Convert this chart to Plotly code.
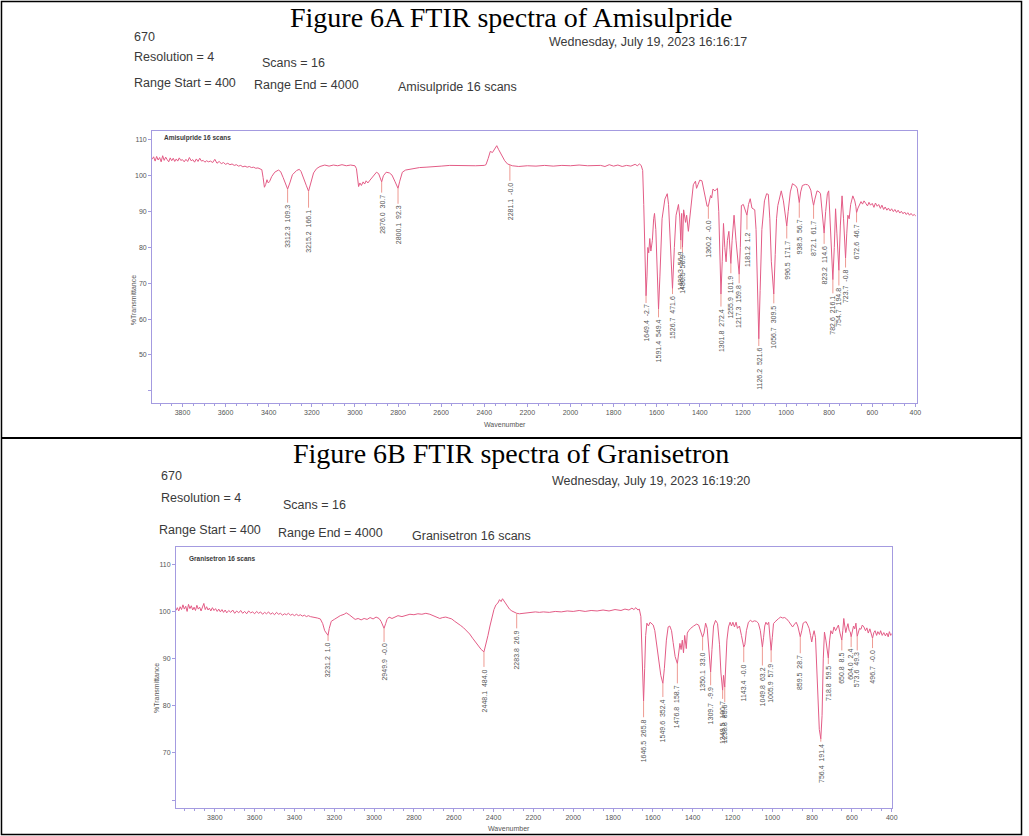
import plotly.graph_objects as go

W, H = 1029, 836

# ---------------- Amisulpride (panel A) ----------------
# Spectrum outline between the labelled bands: wavenumber (cm-1) and %T
amis_wn = [
    3941, 3934, 3927, 3920, 3913, 3906, 3899, 3892, 3885, 3878, 3871, 3864, 3857, 3850,
    3843, 3836, 3829, 3822, 3815, 3808, 3800, 3792, 3784, 3776, 3768, 3760, 3752, 3744,
    3736, 3728, 3720, 3712, 3704, 3696, 3688, 3680, 3670, 3660, 3650, 3640, 3630, 3620,
    3610, 3600, 3590, 3580, 3570, 3560, 3550, 3540, 3530, 3520, 3510, 3500, 3490, 3480,
    3470, 3460, 3450, 3440, 3432, 3426, 3420, 3414, 3408, 3402, 3396, 3386, 3372, 3355,
    3345, 3333, 3322, 3302, 3290, 3270, 3258, 3250, 3238, 3225, 3205, 3192, 3178, 3162,
    3140, 3120, 3100, 3080, 3060, 3040, 3020, 3000, 2993, 2987, 2983, 2977, 2970, 2962,
    2955, 2948, 2940, 2930, 2920, 2910, 2900, 2890, 2884, 2868, 2855, 2840, 2828, 2815,
    2807, 2792, 2780, 2765, 2740, 2720, 2700, 2670, 2640, 2600, 2560, 2520, 2480, 2440,
    2400, 2392, 2382, 2372, 2362, 2352, 2342, 2334, 2320, 2305, 2292, 2270, 2240, 2200,
    2160, 2120, 2080, 2040, 2000, 1960, 1920, 1880, 1860, 1840, 1820, 1800, 1780, 1760,
    1740, 1720, 1700, 1690, 1680, 1672, 1665, 1660, 1655, 1645, 1641, 1637, 1632, 1627,
    1620, 1614, 1610, 1604, 1598, 1585, 1575, 1562, 1551, 1545, 1538, 1518, 1510, 1499,
    1493, 1484, 1475, 1466, 1461, 1453, 1441, 1430, 1420, 1415, 1408, 1400, 1390, 1380,
    1372, 1366, 1355, 1350, 1345, 1339, 1330, 1318, 1312, 1306, 1296, 1290, 1284, 1278,
    1272, 1265, 1260, 1250, 1241, 1232, 1223, 1212, 1207, 1198, 1190, 1174, 1166, 1158,
    1151, 1145, 1139, 1133, 1120, 1112, 1100, 1090, 1082, 1075, 1068, 1050, 1044, 1038,
    1030, 1022, 1012, 1004, 990, 980, 970, 962, 955, 948, 932, 924, 910, 900, 894, 885,
    878, 866, 856, 846, 840, 834, 828, 816, 808, 802, 796, 790, 776, 770, 764, 759, 748,
    740, 733, 727, 718, 713, 707, 700, 690, 681, 676, 666, 660, 652, 645, 638, 630, 622,
    615, 608, 600, 592, 585, 577, 570, 562, 555, 547, 540, 532, 525, 517, 510, 502, 495,
    487, 480, 472, 465, 457, 450, 442, 435, 427, 420, 412, 405, 398,
]
amis_t = [
    104.6, 105.3, 104.1, 105.4, 104.4, 105.1, 103.9, 105.6, 104.3, 105.2, 104.5, 103.9, 105.0, 104.2,
    104.9, 104.0, 104.7, 104.1, 105.0, 104.3, 104.5, 103.9, 104.6, 104.0, 105.1, 104.2, 104.5, 103.8,
    104.7, 104.0, 104.9, 104.1, 104.3, 103.8, 104.2, 103.9, 104.1, 103.7, 104.6, 103.5, 104.0, 103.4,
    103.7, 103.2, 103.5, 103.1, 103.3, 102.9, 103.1, 102.7, 102.9, 102.5, 102.7, 102.4, 102.6, 102.3,
    102.4, 102.1, 102.2, 101.9, 101.7, 99.5, 96.8, 97.6, 98.9, 98.0, 98.4, 99.8, 101.0, 101.6,
    101.2, 99.5, 97.6, 98.0, 100.3, 101.5, 101.8, 101.2, 99.5, 97.2, 98.0, 100.8, 102.0, 102.6,
    103.0, 102.7, 103.0, 102.8, 103.1, 102.8, 103.0, 102.8, 102.0, 99.0, 97.0, 98.0, 97.3, 98.3,
    97.7, 98.6, 98.0, 98.8, 99.6, 100.5, 101.0, 100.6, 99.6, 100.0, 101.0, 100.8, 100.2, 98.5,
    97.2, 98.5, 101.0, 101.6, 101.9, 102.0, 102.3, 102.4, 102.6, 102.7, 102.9, 102.8, 102.9, 102.8,
    102.9, 103.1, 104.8, 106.8, 106.5, 107.6, 108.4, 107.4, 105.8, 104.2, 103.3, 102.8, 102.6, 102.8,
    102.7, 102.9, 102.7, 102.9, 102.8, 103.0, 102.8, 103.0, 102.9, 102.6, 103.1, 102.7, 103.0, 102.6,
    102.9, 102.7, 103.2, 102.8, 103.3, 102.9, 101.5, 92.0, 80.0, 72.0, 80.0, 78.5, 82.5, 79.0,
    82.0, 88.0, 89.5, 85.0, 72.0, 72.0, 88.0, 93.5, 95.0, 92.0, 82.0, 80.0, 89.0, 92.0,
    88.5, 89.5, 90.5, 87.0, 89.0, 84.5, 92.0, 97.5, 98.5, 96.5, 97.6, 98.8, 98.6, 96.0,
    93.0, 91.5, 93.5, 94.5, 93.8, 96.3, 95.8, 96.5, 90.0, 76.0, 76.0, 86.7, 80.0, 76.0,
    82.0, 84.5, 79.5, 82.0, 89.0, 82.0, 75.0, 80.0, 91.7, 92.0, 90.5, 92.0, 93.6, 91.0,
    90.7, 90.5, 85.0, 70.0, 68.0, 85.0, 93.0, 95.0, 94.8, 88.0, 76.0, 78.0, 88.0, 91.7,
    93.5, 95.8, 93.0, 89.0, 90.0, 95.5, 97.8, 97.6, 97.2, 96.5, 95.5, 97.3, 97.6, 97.5, 97.2, 96.0,
    93.5, 93.5, 95.8, 95.5, 95.0, 91.0, 86.5, 90.0, 95.0, 95.8, 88.0, 78.0, 80.0, 90.8, 84.0, 76.0, 86.0,
    94.4, 88.0, 80.0, 84.0, 89.0, 88.0, 92.0, 94.4, 93.0, 91.5, 91.0, 92.0, 92.8, 92.1, 93.0, 92.3, 91.6,
    92.6, 91.8, 92.3, 91.2, 92.4, 91.5, 92.0, 90.9, 91.8, 90.6, 91.3, 90.4, 91.0, 90.2, 90.8, 90.0, 90.6,
    89.8, 90.4, 89.6, 90.1, 89.4, 89.9, 89.2, 89.7, 89.0, 89.5, 88.9, 89.2, 88.8,
]
# Labelled bands: position, %T at the band, %T where the label begins, label
amis_peak_wn = [3312.3, 3215.2, 2876.0, 2800.1, 2281.1, 1649.4, 1591.4, 1526.7, 1488.3,
                1480.5, 1360.2, 1301.8, 1255.9, 1217.3, 1181.2, 1126.2, 1056.7, 996.5,
                938.5, 872.1, 823.2, 782.6, 754.7, 723.7, 672.6]
amis_peak_t = [96.3, 95.7, 98.3, 96.5, 103.0, 66.5, 62.8, 68.5, 82.0,
               80.0, 91.6, 67.0, 75.5, 72.5, 89.0, 54.5, 67.0, 86.0,
               92.5, 91.7, 84.0, 71.0, 73.6, 77.0, 89.7]
amis_label_t = [92.5, 91.1, 95.3, 92.2, 98.6, 64.5, 60.5, 67.0, 79.5,
                78.5, 88.0, 63.5, 72.8, 70.0, 85.0, 52.5, 64.4, 82.5,
                88.3, 88.0, 81.0, 67.2, 69.4, 74.4, 87.0]
amis_label_txt = ["3312.3  109.3", "3215.2  166.1", "2876.0  30.7", "2800.1  92.3",
                  "2281.1  -0.0", "1649.4  -2.7", "1591.4  549.4", "1526.7  471.6",
                  "1488.3  56.9", "1480.5  50.9", "1360.2  -0.0", "1301.8  272.4",
                  "1255.9  101.9", "1217.3  159.8", "1181.2  1.2", "1126.2  521.6",
                  "1056.7  309.5", "996.5  171.7", "938.5  56.7", "872.1  61.7",
                  "823.2  114.6", "782.6  216.1", "754.7  194.8", "723.7  -0.8",
                  "672.6  46.7"]

# ---------------- Granisetron (panel B) ----------------
gran_wn = [
    3995, 3988, 3981, 3974, 3967, 3960, 3953, 3946, 3939, 3932, 3925, 3918, 3911, 3904,
    3897, 3890, 3883, 3876, 3869, 3862, 3855, 3848, 3841, 3834, 3827, 3820, 3812, 3804,
    3796, 3788, 3780, 3772, 3764, 3756, 3748, 3740, 3730, 3720, 3710, 3700, 3690, 3680,
    3670, 3660, 3650, 3640, 3630, 3620, 3610, 3600, 3590, 3580, 3570, 3560, 3550, 3540,
    3530, 3520, 3510, 3500, 3490, 3480, 3470, 3460, 3450, 3440, 3430, 3420, 3410, 3400,
    3390, 3380, 3370, 3360, 3350, 3340, 3330, 3320, 3300, 3285, 3270, 3258, 3248, 3225,
    3215, 3200, 3185, 3170, 3150, 3140, 3125, 3110, 3095, 3080, 3065, 3050, 3035, 3020,
    3005, 2990, 2975, 2965, 2958, 2942, 2935, 2925, 2910, 2895, 2880, 2860, 2840, 2820,
    2800, 2780, 2760, 2740, 2720, 2700, 2685, 2670, 2655, 2640, 2625, 2610, 2595, 2580,
    2565, 2550, 2535, 2520, 2505, 2490, 2475, 2462, 2438, 2428, 2418, 2408, 2398, 2388,
    2378, 2370, 2362, 2355, 2348, 2340, 2330, 2320, 2308, 2296, 2270, 2250, 2230, 2210,
    2190, 2170, 2150, 2120, 2090, 2060, 2030, 2000, 1970, 1940, 1910, 1880, 1850, 1820,
    1790, 1760, 1740, 1720, 1705, 1695, 1685, 1675, 1668, 1660, 1655, 1651, 1641, 1636,
    1630, 1622, 1614, 1605, 1598, 1590, 1580, 1570, 1560, 1542, 1532, 1523, 1515, 1506,
    1498, 1488, 1470, 1464, 1458, 1452, 1446, 1440, 1432, 1427, 1420, 1410, 1395, 1380,
    1370, 1360, 1343, 1335, 1327, 1320, 1315, 1303, 1295, 1285, 1275, 1265, 1258, 1245,
    1234, 1228, 1220, 1212, 1205, 1198, 1190, 1182, 1175, 1165, 1155, 1148, 1138, 1130,
    1120, 1110, 1100, 1090, 1080, 1070, 1060, 1055, 1044, 1038, 1032, 1025, 1018, 1012,
    1000, 994, 986, 978, 968, 958, 948, 938, 928, 918, 908, 898, 888, 880, 872, 866,
    852, 845, 838, 830, 822, 815, 808, 802, 796, 790, 783, 776, 770, 764, 750, 744,
    738, 731, 725, 712, 706, 698, 690, 682, 675, 668, 660, 655, 646, 641, 636, 631,
    626, 620, 614, 609, 598, 592, 586, 580, 568, 562, 555, 548, 540, 532, 525, 518,
    510, 504, 490, 484, 476, 470, 462, 456, 448, 440, 432, 425, 418, 412, 405, 400,
]
gran_t = [
    100.3, 100.9, 100.2, 101.1, 100.5, 101.5, 100.6, 101.2, 100.1, 101.6, 100.7, 101.3, 100.4, 101.0,
    100.3, 101.4, 100.6, 101.0, 100.2, 100.9, 101.8, 100.5, 101.1, 100.4, 100.8, 100.2, 100.9, 100.3,
    100.7, 100.1, 100.6, 100.0, 100.5, 99.9, 100.4, 99.8, 100.3, 99.9, 100.4, 99.7, 100.2, 99.8,
    100.3, 99.7, 100.1, 99.6, 100.2, 99.8, 100.0, 99.6, 100.1, 99.7, 100.0, 99.5, 99.9, 99.6,
    100.0, 99.5, 99.8, 99.4, 99.9, 99.5, 99.7, 99.3, 99.6, 99.4, 99.7, 99.3, 99.5, 99.2,
    99.5, 99.2, 99.4, 99.1, 99.3, 99.0, 99.2, 99.0, 98.9, 98.7, 98.5, 97.5, 96.0, 96.5,
    98.0, 98.4, 98.9, 99.2, 99.5, 99.8, 99.4, 98.9, 98.4, 98.6, 98.3, 98.6, 98.4, 98.8,
    98.5, 98.9, 98.6, 98.0, 97.2, 97.5, 98.4, 98.9, 98.6, 98.9, 99.2, 99.0, 99.3, 99.5,
    99.4, 99.6, 99.5, 99.7, 99.5, 99.2, 98.9, 98.6, 98.8, 98.9, 98.7, 98.5, 98.0, 97.6,
    97.1, 96.6, 96.0, 95.3, 94.4, 93.5, 92.7, 92.0, 93.0, 95.0, 97.0, 98.9, 100.5, 101.5,
    101.9, 102.6, 102.2, 102.8, 102.3, 102.0, 101.2, 100.6, 100.2, 99.9, 99.6, 99.7, 99.9, 100.0,
    100.0, 99.9, 100.0, 99.9, 100.1, 100.0, 100.2, 100.1, 100.3, 100.1, 100.3, 100.2, 100.4, 100.2,
    100.5, 100.3, 100.6, 100.4, 100.8, 100.5, 100.9, 100.4, 100.6, 99.0, 93.0, 86.0, 88.0, 95.0,
    97.6, 97.0, 97.8, 97.4, 97.2, 96.0, 93.0, 90.0, 86.5, 88.0, 94.0, 96.8, 97.0, 96.0,
    93.5, 90.5, 91.0, 93.3, 92.0, 94.0, 91.3, 95.0, 92.2, 95.5, 96.0, 96.5, 97.0, 97.4,
    97.2, 96.0, 95.5, 97.6, 96.5, 92.0, 88.5, 92.0, 97.0, 98.2, 97.5, 93.0, 87.0, 86.5,
    88.0, 94.0, 96.8, 97.8, 97.0, 97.8, 96.8, 97.8, 96.5, 97.0, 95.0, 93.0, 93.0, 96.0,
    97.8, 98.2, 97.9, 98.1, 98.0, 97.6, 96.0, 93.5, 94.5, 97.0, 97.8, 97.3, 97.8, 95.5,
    94.5, 97.5, 97.9, 98.3, 98.6, 98.9, 98.7, 98.8, 98.5, 98.0, 97.3, 96.8, 97.4, 97.8, 97.0, 95.5,
    96.0, 97.6, 97.8, 97.9, 97.2, 96.5, 95.0, 93.6, 95.0, 96.0, 94.5, 88.0, 80.0, 75.0, 78.0, 90.0,
    95.7, 94.0, 92.0, 94.0, 96.0, 95.3, 96.8, 96.0, 96.5, 97.2, 95.5, 94.2, 96.0, 98.6, 97.0, 95.6,
    96.6, 97.5, 96.0, 95.8, 96.2, 97.0, 96.4, 97.6, 96.0, 96.5, 96.3, 97.2, 96.8, 96.0, 96.6, 95.5,
    96.4, 95.4, 95.6, 96.0, 95.0, 95.8, 95.2, 96.0, 95.0, 95.6, 94.9, 95.5, 94.7, 95.8, 95.0, 95.4,
]
gran_peak_wn = [3231.2, 2949.9, 2448.1, 2283.8, 1646.5, 1549.6, 1476.8, 1350.1, 1309.7,
                1249.5, 1238.8, 1143.4, 1049.8, 1005.9, 859.5, 756.4, 718.8, 650.8,
                604.0, 573.6, 496.7]
gran_peak_t = [95.0, 96.5, 91.5, 99.7, 81.0, 84.8, 89.0, 94.6, 87.2,
               83.3, 84.0, 92.5, 92.5, 91.8, 94.7, 73.0, 90.2, 94.0,
               94.7, 94.8, 94.4]
gran_label_t = [93.8, 93.6, 88.3, 96.5, 77.6, 81.9, 84.8, 91.8, 84.4,
                81.5, 80.8, 89.3, 88.6, 89.3, 91.2, 72.4, 88.9, 91.8,
                92.5, 91.8, 92.3]
gran_label_txt = ["3231.2  1.0", "2949.9  -0.0", "2448.1  484.0", "2283.8  26.9",
                  "1646.5  265.8", "1549.6  352.4", "1476.8  158.7", "1350.1  33.0",
                  "1309.7  -9.9", "1249.5  100.7", "1238.8  85.6", "1143.4  -0.0",
                  "1049.8  63.2", "1005.9  57.9", "859.5  28.7", "756.4  191.4",
                  "718.8  59.5", "650.8  8.5", "604.0  2.4", "573.6  49.3",
                  "496.7  -0.0"]

x_ticks = list(range(3800, 399, -200))
x_minor = list(range(3950, 399, -50))

SPEC = "#e35c86"
LEAD = "#ee9a92"
AXIS = "#a49be0"
TXT = "#3a3a3a"
SANS = "Liberation Sans, Arial, sans-serif"


def px(x):
    return x / W


def py(y):
    return 1 - y / H


def spectrum(wn, t, pwn, pt):
    pts = sorted(zip(list(wn) + list(pwn), list(t) + list(pt)), key=lambda p: -p[0])
    return [p[0] for p in pts], [p[1] for p in pts]


fig = go.Figure()
annotations = []

panels = [
    dict(wn=amis_wn, t=amis_t, pwn=amis_peak_wn, pt=amis_peak_t, lt=amis_label_t,
         txt=amis_label_txt, xa="x", ya="y"),
    dict(wn=gran_wn, t=gran_t, pwn=gran_peak_wn, pt=gran_peak_t, lt=gran_label_t,
         txt=gran_label_txt, xa="x2", ya="y2"),
]

for p in panels:
    sx, sy = spectrum(p["wn"], p["t"], p["pwn"], p["pt"])
    fig.add_trace(go.Scatter(x=sx, y=sy, mode="lines", xaxis=p["xa"], yaxis=p["ya"],
                             line=dict(color=SPEC, width=1), hoverinfo="skip",
                             showlegend=False))
    lx, ly = [], []
    for w, a, b in zip(p["pwn"], p["pt"], p["lt"]):
        lx += [w, w, None]
        ly += [a, b, None]
    fig.add_trace(go.Scatter(x=lx, y=ly, mode="lines", xaxis=p["xa"], yaxis=p["ya"],
                             line=dict(color=LEAD, width=1), hoverinfo="skip",
                             showlegend=False))
    for w, b, s in zip(p["pwn"], p["lt"], p["txt"]):
        annotations.append(dict(x=w, y=b, xref=p["xa"], yref=p["ya"], text=s,
                                showarrow=False, textangle=-90, xanchor="center",
                                yanchor="top", font=dict(family=SANS, size=7, color="#555")))


def header(x, y, s, size=12.5, anchor="left", family=SANS, color=TXT, angle=0, bold=False):
    annotations.append(dict(x=px(x), y=py(y), xref="paper", yref="paper",
                            text=f"<b>{s}</b>" if bold else s, showarrow=False,
                            xanchor=anchor, yanchor="middle", textangle=angle,
                            font=dict(family=family, size=size, color=color)))


SERIF = "Liberation Serif, Times New Roman, serif"
# Panel A header
header(514, 18, "Figure 6A FTIR spectra of Amisulpride", size=28, anchor="center",
       family=SERIF, color="#000")
header(133, 37, "670")
header(550, 42, "Wednesday, July 19, 2023 16:16:17")
header(133, 57, "Resolution = 4")
header(262, 63, "Scans = 16")
header(133, 83, "Range Start = 400")
header(253, 85, "Range End = 4000")
header(398, 87, "Amisulpride 16 scans")
header(163, 138, "Amisulpride 16 scans", size=6.5, bold=True)
header(508, 424, "Wavenumber", size=7, anchor="center", color="#555")
header(134, 300, "%Transmittance", size=7, anchor="center", color="#555", angle=-90)
# Panel B header
header(514, 453, "Figure 6B FTIR spectra of Granisetron", size=28, anchor="center",
       family=SERIF, color="#000")
header(160, 476, "670")
header(553, 481, "Wednesday, July 19, 2023 16:19:20")
header(160, 498, "Resolution = 4")
header(283, 505, "Scans = 16")
header(158, 530, "Range Start = 400")
header(278, 533, "Range End = 4000")
header(412, 536, "Granisetron 16 scans")
header(188, 558, "Granisetron 16 scans", size=6.5, bold=True)
header(512, 828, "Wavenumber", size=7, anchor="center", color="#555")
header(157, 688, "%Transmittance", size=7, anchor="center", color="#555", angle=-90)


def xaxis(domain, rng, anchor):
    return dict(domain=domain, range=rng, anchor=anchor, tickmode="array", tickvals=x_ticks,
                showgrid=False, zeroline=False, showline=True, linecolor=AXIS, linewidth=1,
                mirror=True, ticks="outside", ticklen=3, tickcolor=AXIS,
                tickfont=dict(family=SANS, size=7, color="#555"),
                minor=dict(ticks="outside", tickmode="array", tickvals=x_minor, ticklen=2,
                           tickcolor=AXIS))


def yaxis(domain, rng, vals, labels, anchor):
    return dict(domain=domain, range=rng, anchor=anchor, tickmode="array", tickvals=vals,
                ticktext=labels, showgrid=False, zeroline=False, showline=True,
                linecolor=AXIS, linewidth=1, mirror=True, ticks="outside", ticklen=3,
                tickcolor=AXIS, tickfont=dict(family=SANS, size=7, color="#555"))


a_y = [40, 50, 60, 70, 80, 90, 100, 110]
b_y = [60, 70, 80, 90, 100, 110]

fig.update_layout(
    width=W, height=H, margin=dict(l=0, r=0, t=0, b=0),
    paper_bgcolor="white", plot_bgcolor="white", showlegend=False,
    xaxis=xaxis([px(153), px(922)], [3941, 394], "y"),
    yaxis=yaxis([py(403), py(131)], [36.6, 112.5], a_y,
                [""] + [str(v) for v in a_y[1:]], "x"),
    xaxis2=xaxis([px(177), px(897)], [3995, 400], "y2"),
    yaxis2=yaxis([py(808), py(547)], [58.3, 113.8], b_y,
                 [""] + [str(v) for v in b_y[1:]], "x2"),
    annotations=annotations,
    shapes=[
        dict(type="rect", xref="paper", yref="paper", x0=px(1.5), x1=px(1027.5),
             y0=py(834.5), y1=py(1.5), line=dict(color="#000", width=1.5)),
        dict(type="line", xref="paper", yref="paper", x0=px(1.5), x1=px(1027.5),
             y0=py(438), y1=py(438), line=dict(color="#000", width=2)),
    ],
)

fig.write_html("out.html")
